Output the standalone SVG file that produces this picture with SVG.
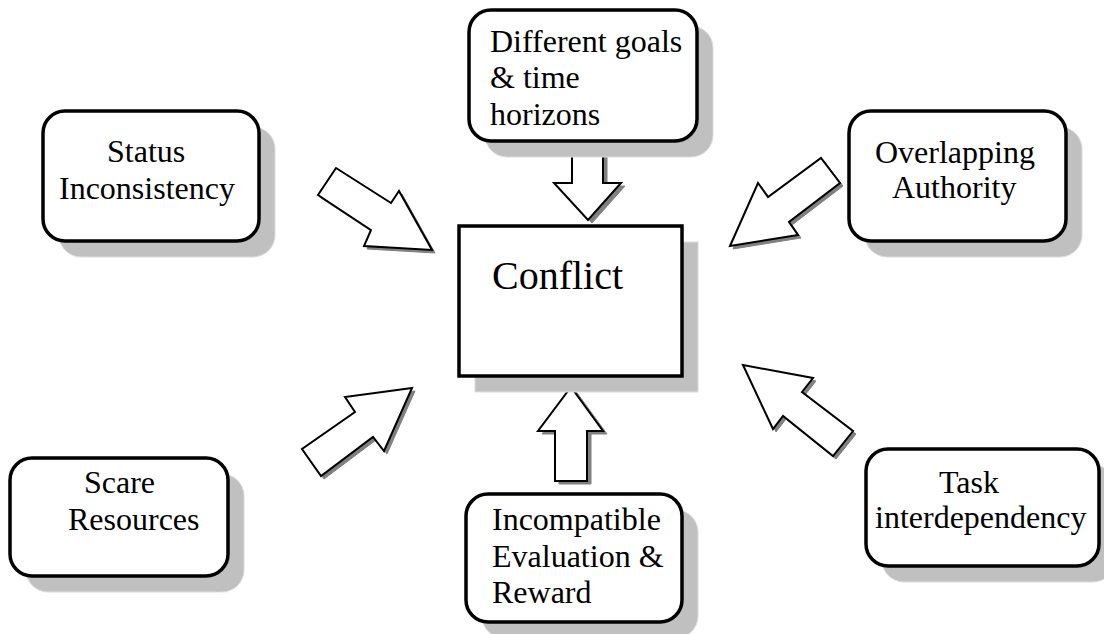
<svg xmlns="http://www.w3.org/2000/svg" width="1104" height="634" viewBox="0 0 1104 634" font-family="Liberation Serif, Times New Roman, DejaVu Serif, serif">
<style>
.shadow{fill:#c0c0c0;stroke:#dcdcdc;stroke-width:1}
.box{fill:#ffffff;stroke:#000000;stroke-width:3.5}
text{font-family:'Liberation Serif','Times New Roman','DejaVu Serif',serif;font-size:32px;fill:#000000}
text.big{font-size:40px}
.ash{fill:#808080;stroke:#808080;stroke-width:1}
.arr{fill:#ffffff;stroke:#000000;stroke-width:2;stroke-linejoin:miter}
</style>
<rect width="1104" height="634" fill="#ffffff"/>
<g id="connectors">
  <g id="arrow-status">
    <polygon class="ash" transform="translate(3,3)" points="336,168 391,203 399,191 432,250 364,246 371,230 318,195"/>
    <polygon class="arr" points="336,168 391,203 399,191 432,250 364,246 371,230 318,195"/>
  </g>
  <g id="arrow-goals">
    <polygon class="ash" transform="translate(4,3)" points="572,147 603,147 603,183 621,183 588,220 554,183 572,183"/>
    <polygon class="arr" points="572,147 603,147 603,183 621,183 588,220 554,183 572,183"/>
  </g>
  <g id="arrow-authority">
    <polygon class="ash" transform="translate(3,3)" points="730,246 758,183 768,197 821,158 840,183 789,222 798,235"/>
    <polygon class="arr" points="730,246 758,183 768,197 821,158 840,183 789,222 798,235"/>
  </g>
  <g id="arrow-resources">
    <polygon class="ash" transform="translate(3,3)" points="412,388 345,397 355,412 302,449 321,476 373,437 384,451"/>
    <polygon class="arr" points="412,388 345,397 355,412 302,449 321,476 373,437 384,451"/>
  </g>
  <g id="arrow-reward">
    <polygon class="ash" transform="translate(4,3)" points="571,387 603,431 587,431 587,481 555,481 555,431 538,431"/>
    <polygon class="arr" points="571,387 603,431 587,431 587,481 555,481 555,431 538,431"/>
  </g>
  <g id="arrow-task">
    <polygon class="ash" transform="translate(3,3)" points="743,365 813,378 802,392 853,431 833,456 783,416 773,429"/>
    <polygon class="arr" points="743,365 813,378 802,392 853,431 833,456 783,416 773,429"/>
  </g>
</g>
<g id="node-status">
  <rect class="shadow" x="59" y="127" width="216" height="130" rx="22"/>
  <rect class="box" x="43" y="111" width="216" height="130" rx="22"/>
  <text x="107" y="162">Status</text>
  <text x="59" y="199">Inconsistency</text>
</g>
<g id="node-goals">
  <rect class="shadow" x="485" y="26" width="228" height="131" rx="22"/>
  <rect class="box" x="469" y="10" width="228" height="131" rx="22"/>
  <text x="490" y="52">Different goals</text>
  <text x="490" y="88">&amp; time</text>
  <text x="490" y="125">horizons</text>
</g>
<g id="node-authority">
  <rect class="shadow" x="865" y="127" width="217" height="130" rx="22"/>
  <rect class="box" x="849" y="111" width="217" height="130" rx="22"/>
  <text x="875" y="163">Overlapping</text>
  <text x="892" y="198">Authority</text>
</g>
<g id="node-conflict">
  <rect class="shadow" x="475" y="242" width="223" height="150"/>
  <rect class="box" x="459" y="226" width="223" height="150"/>
  <text class="big" x="492" y="289">Conflict</text>
</g>
<g id="node-resources">
  <rect class="shadow" x="26" y="474" width="218" height="118" rx="22"/>
  <rect class="box" x="10" y="458" width="218" height="118" rx="22"/>
  <text x="84" y="493">Scare</text>
  <text x="68" y="530">Resources</text>
</g>
<g id="node-reward">
  <rect class="shadow" x="482" y="510" width="216" height="128" rx="22"/>
  <rect class="box" x="466" y="494" width="216" height="128" rx="22"/>
  <text x="492" y="530">Incompatible</text>
  <text x="492" y="567">Evaluation &amp;</text>
  <text x="492" y="603">Reward</text>
</g>
<g id="node-task">
  <rect class="shadow" x="882" y="465" width="233" height="117" rx="22"/>
  <rect class="box" x="866" y="449" width="233" height="117" rx="22"/>
  <text x="939" y="493">Task</text>
  <text x="875" y="528">interdependency</text>
</g>
</svg>
